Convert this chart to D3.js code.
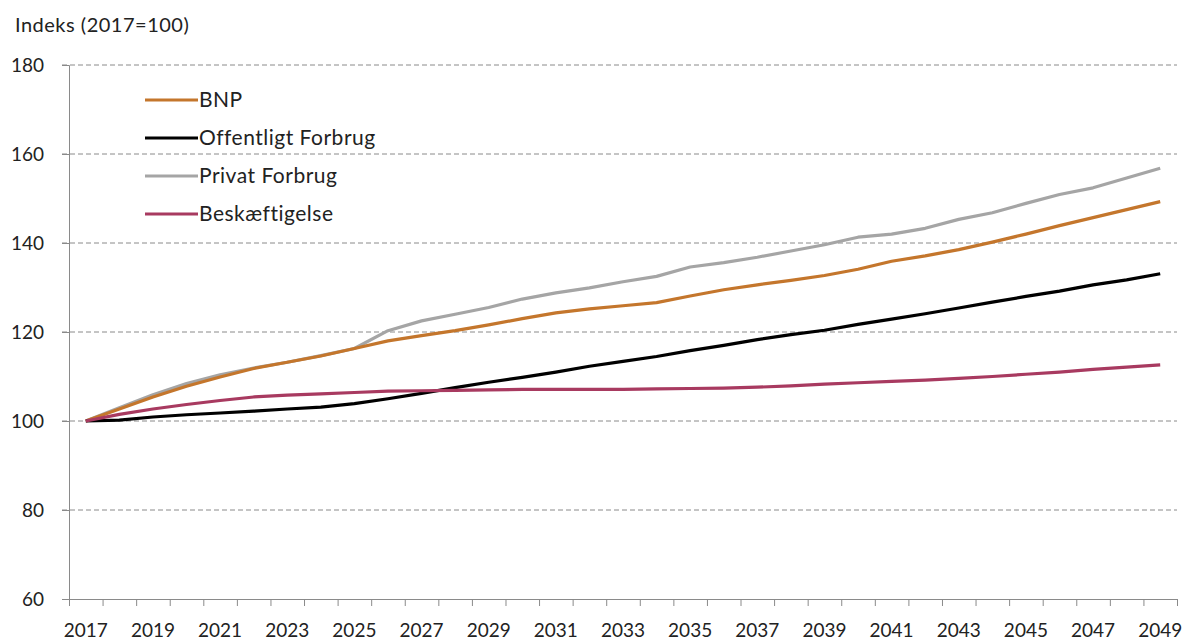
<!DOCTYPE html>
<html>
<head>
<meta charset="utf-8">
<script src="https://cdn.jsdelivr.net/npm/d3@7"></script>
<style>
  body { margin: 0; background: #fff; }
  text { font-family: Lato, "Open Sans", sans-serif; fill: #222; }
</style>
</head>
<body>
<svg id="chart" width="1187" height="641"></svg>
<script>
const years = d3.range(2017, 2050);

const bnp = [100, 102.7, 105.4, 107.8, 109.9, 111.8, 113.2, 114.6, 116.3, 118.0, 119.2, 120.3, 121.6, 123.0, 124.3, 125.2, 125.9,
  126.6, 128.1, 129.5, 130.6, 131.6, 132.7, 134.1, 135.9, 137.1, 138.5, 140.2, 142.0, 143.9, 145.7, 147.5, 149.3];
const offentligt = [100, 100.2, 100.9, 101.4, 101.8, 102.2, 102.7, 103.1, 103.9, 105.0, 106.2, 107.5, 108.7, 109.8, 111.0, 112.3, 113.4,
  114.5, 115.8, 117.0, 118.3, 119.4, 120.4, 121.7, 122.9, 124.1, 125.4, 126.7, 128.0, 129.2, 130.6, 131.7, 133.1];
const privat = [100, 103.0, 105.9, 108.4, 110.4, 111.9, 113.2, 114.7, 116.3, 120.3, 122.5, 124.0, 125.5, 127.4, 128.8, 129.9, 131.3,
  132.5, 134.6, 135.6, 136.8, 138.2, 139.6, 141.3, 142.0, 143.3, 145.3, 146.8, 148.9, 150.9, 152.4, 154.6, 156.8];
const beskaeftigelse = [100, 101.5, 102.7, 103.7, 104.6, 105.4, 105.8, 106.1, 106.4, 106.7, 106.8, 106.9, 107.0, 107.1, 107.1, 107.1, 107.1,
  107.2, 107.3, 107.4, 107.6, 107.9, 108.3, 108.6, 108.9, 109.2, 109.6, 110.0, 110.5, 111.0, 111.6, 112.1, 112.6];

const seriesNames = ["BNP", "Offentligt Forbrug", "Privat Forbrug", "Beskæftigelse"];
const seriesColors = ["#c4762c", "#000000", "#a5a5a5", "#a83a60"];
const yTicks = [60, 80, 100, 120, 140, 160, 180];

const series = [bnp, offentligt, privat, beskaeftigelse].map((vals, i) => ({
  name: seriesNames[i], color: seriesColors[i],
  values: vals.map((v, j) => ({ year: years[j], value: v }))
}));

const svg = d3.select("#chart");
const mLeft = 69, mRight = 1177, mTop = 65, mBottom = 599;

const x = d3.scaleBand().domain(years).range([mLeft, mRight]);
const xEdge = d3.scaleLinear().domain([0, years.length]).range([mLeft, mRight]);
const y = d3.scaleLinear().domain([60, 180]).range([mBottom, mTop]);

// gridlines
svg.append("g")
  .selectAll("line")
  .data(yTicks.filter(d => d > 60))
  .join("line")
  .attr("x1", mLeft - 7).attr("x2", mRight)
  .attr("y1", d => y(d)).attr("y2", d => y(d))
  .attr("stroke", "#8a8a8a")
  .attr("stroke-width", 1)
  .attr("stroke-dasharray", "5,3");

// y axis
const yAxis = svg.append("g")
  .attr("transform", `translate(${mLeft},0)`)
  .call(d3.axisLeft(y).tickValues(yTicks).tickSize(7).tickPadding(18));
yAxis.select(".domain").attr("stroke", "#8a8a8a");
yAxis.selectAll(".tick line").attr("stroke", "#8a8a8a");
yAxis.selectAll("text").style("font-size", "19px").attr("fill", "#222");

// x axis: ticks on category edges
const xTicks = svg.append("g")
  .attr("transform", `translate(0,${mBottom})`)
  .call(d3.axisBottom(xEdge).tickValues(d3.range(0, years.length + 1)).tickFormat("").tickSize(7).tickSizeOuter(0));
xTicks.select(".domain").attr("stroke", "#8a8a8a").attr("d", `M${mLeft - 7},0.5H${mRight}`);
xTicks.selectAll(".tick line").attr("stroke", "#8a8a8a");

const xLabels = svg.append("g")
  .attr("transform", `translate(0,${mBottom})`)
  .call(d3.axisBottom(x).tickValues(years.filter(d => (d - 2017) % 2 === 0)).tickSize(0).tickPadding(25));
xLabels.select(".domain").remove();
xLabels.selectAll("text").style("font-size", "19px").attr("fill", "#222");

// lines
const line = d3.line()
  .x(d => x(d.year) + x.bandwidth() / 2)
  .y(d => y(d.value));

svg.append("g")
  .selectAll("path")
  .data([series[2], series[0], series[1], series[3]])
  .join("path")
  .attr("d", d => line(d.values))
  .attr("fill", "none")
  .attr("stroke", d => d.color)
  .attr("stroke-width", 3.2)
  .attr("stroke-linejoin", "round");

// legend
const legend = svg.append("g")
  .selectAll("g")
  .data(series)
  .join("g")
  .attr("transform", (d, i) => `translate(145,${100 + i * 38})`);
legend.append("line")
  .attr("x1", 0).attr("x2", 53)
  .attr("stroke", d => d.color)
  .attr("stroke-width", 3.2);
legend.append("text")
  .attr("x", 54).attr("dy", "0.35em")
  .style("font-size", "21px")
  .style("letter-spacing", "0.5px")
  .text(d => d.name);

// title
svg.append("text")
  .attr("x", 15).attr("y", 25).attr("dy", "0.35em")
  .style("font-size", "20px")
  .style("letter-spacing", "0.5px")
  .text("Indeks (2017=100)");
</script>
</body>
</html>
